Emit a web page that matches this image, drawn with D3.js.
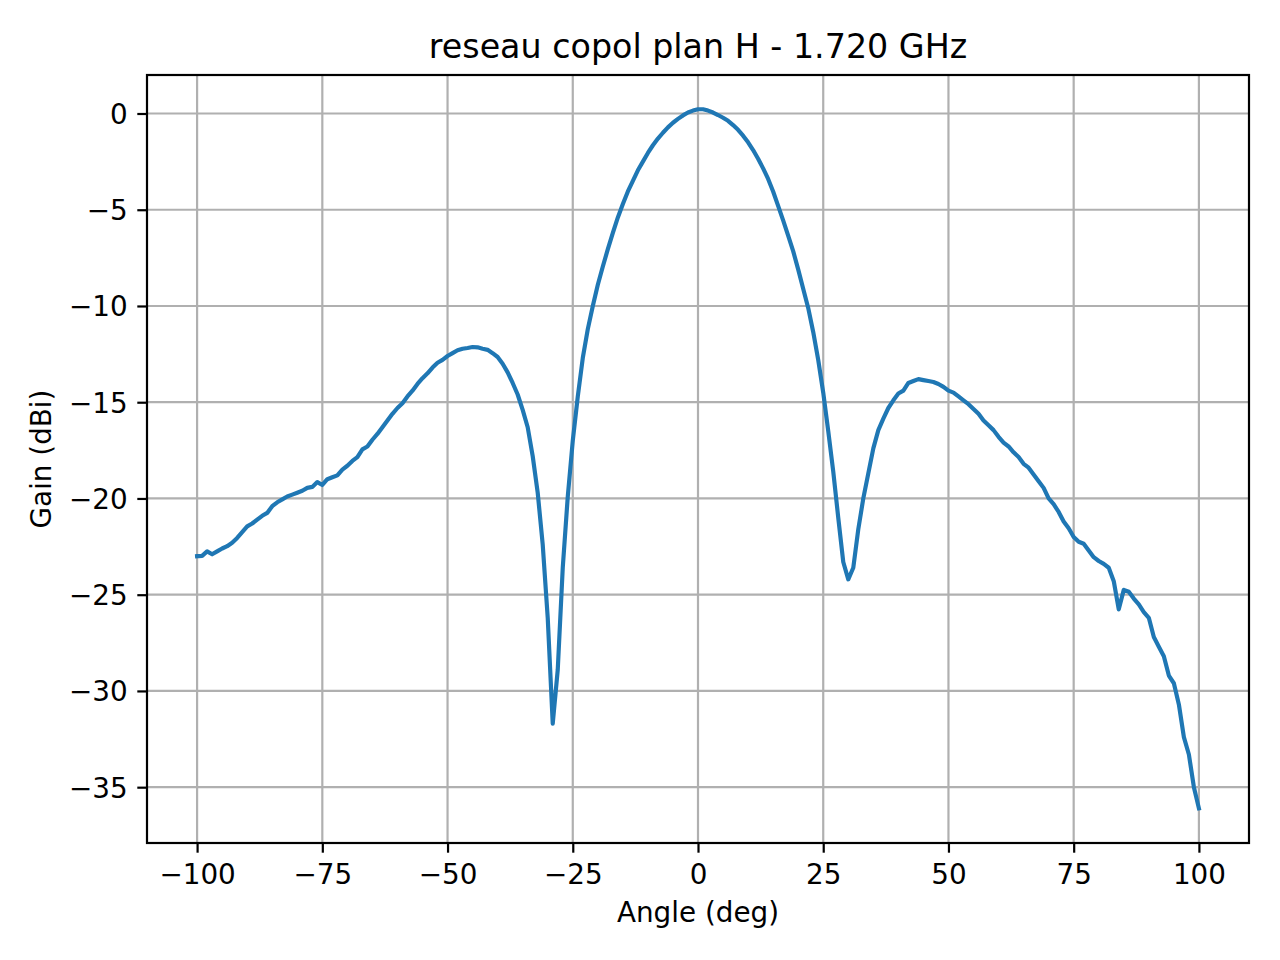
<!DOCTYPE html>
<html>
<head>
<meta charset="utf-8">
<script src="https://cdn.jsdelivr.net/npm/d3@7"></script>
<style>
  body { margin: 0; background: #fff; }
  text { font-family: "DejaVu Sans", sans-serif; fill: #000; }
</style>
</head>
<body>
<svg id="chart" width="1280" height="960"></svg>
<script>
// measured pattern, 1 degree steps from -100 to 100
var angles = d3.range(-100, 101, 1);
var gains = [
  -23.0, -22.98, -22.75, -22.9, -22.75, -22.6, -22.48, -22.3, -22.05, -21.75,   // -100..-91
  -21.45, -21.3, -21.1, -20.9, -20.75, -20.4, -20.2, -20.05, -19.9, -19.8,      // -90..-81
  -19.7, -19.6, -19.45, -19.4, -19.15, -19.3, -19.0, -18.9, -18.8, -18.5,       // -80..-71
  -18.3, -18.05, -17.85, -17.45, -17.3, -16.95, -16.65, -16.3, -15.95, -15.6,   // -70..-61
  -15.3, -15.05, -14.7, -14.4, -14.05, -13.75, -13.5, -13.2, -12.95, -12.8,     // -60..-51
  -12.6, -12.45, -12.3, -12.22, -12.18, -12.13, -12.15, -12.22, -12.28, -12.45, // -50..-41
  -12.65, -13.0, -13.45, -14.0, -14.6, -15.4, -16.3, -17.8, -19.7, -22.4,       // -40..-31
  -26.2, -31.7, -28.9, -23.6, -19.9, -17.0, -14.7, -12.7, -11.2, -10.0,         // -30..-21
  -8.9, -7.95, -7.05, -6.2, -5.4, -4.7, -4.05, -3.5, -2.95, -2.5,               // -20..-11
  -2.05, -1.65, -1.3, -1.0, -0.72, -0.48, -0.28, -0.1, 0.05, 0.15,              // -10..-1
  0.22,                                                                         // 0
  0.22, 0.15, 0.05, -0.08, -0.22, -0.38, -0.6, -0.85, -1.15, -1.5,              // 1..10
  -1.9, -2.35, -2.85, -3.4, -4.05, -4.8, -5.55, -6.35, -7.15, -8.1,             // 11..20
  -9.1, -10.1, -11.35, -12.8, -14.5, -16.5, -18.6, -21.0, -23.3, -24.2,         // 21..30
  -23.6, -21.6, -20.0, -18.7, -17.4, -16.45, -15.85, -15.3, -14.9, -14.55,      // 31..40
  -14.4, -14.0, -13.9, -13.8, -13.85, -13.9, -13.95, -14.05, -14.2, -14.4,      // 41..50
  -14.5, -14.7, -14.9, -15.1, -15.35, -15.6, -15.95, -16.2, -16.45, -16.8,      // 51..60
  -17.1, -17.3, -17.6, -17.85, -18.2, -18.4, -18.75, -19.1, -19.45, -20.0,      // 61..70
  -20.3, -20.7, -21.2, -21.55, -22.0, -22.25, -22.35, -22.7, -23.05, -23.25,    // 71..80
  -23.4, -23.6, -24.3, -25.76, -24.75, -24.85, -25.2, -25.5, -25.9, -26.2,      // 81..90
  -27.2, -27.7, -28.2, -29.2, -29.6, -30.7, -32.4, -33.3, -35.0, -36.1          // 91..100
];
var xTicks = [-100, -75, -50, -25, 0, 25, 50, 75, 100];
var yTicks = [-35, -30, -25, -20, -15, -10, -5, 0];

var title = "reseau copol plan H - 1.720 GHz";
var xLabel = "Angle (deg)";
var yLabel = "Gain (dBi)";

var plotLeft = 147, plotRight = 1249, plotTop = 75, plotBottom = 843;

var svg = d3.select("#chart");

var x = d3.scaleLinear().domain([-110, 110]).range([plotLeft, plotRight]);
var y = d3.scaleLinear().domain([-37.9, 2.0]).range([plotBottom, plotTop]);

var fmt = function(d) { return d < 0 ? "\u2212" + Math.abs(d) : String(d); };

// grid
svg.append("g").selectAll("line")
    .data(xTicks).enter().append("line")
    .attr("x1", function(d) { return x(d); })
    .attr("x2", function(d) { return x(d); })
    .attr("y1", plotTop).attr("y2", plotBottom)
    .attr("stroke", "#b0b0b0").attr("stroke-width", 2.2);

svg.append("g").selectAll("line")
    .data(yTicks).enter().append("line")
    .attr("y1", function(d) { return y(d); })
    .attr("y2", function(d) { return y(d); })
    .attr("x1", plotLeft).attr("x2", plotRight)
    .attr("stroke", "#b0b0b0").attr("stroke-width", 2.2);

// axes
var xAxis = svg.append("g")
    .attr("transform", "translate(0," + plotBottom + ")")
    .call(d3.axisBottom(x).tickValues(xTicks).tickFormat(fmt).tickSize(9.7).tickPadding(9.7));
var yAxis = svg.append("g")
    .attr("transform", "translate(" + plotLeft + ",0)")
    .call(d3.axisLeft(y).tickValues(yTicks).tickFormat(fmt).tickSize(9.7).tickPadding(9.7));

[xAxis, yAxis].forEach(function(a) {
    a.select(".domain").remove();
    a.selectAll(".tick line").attr("stroke", "#000").attr("stroke-width", 2.2);
    a.selectAll(".tick text")
      .style("font-family", "DejaVu Sans")
      .style("font-size", "27.8px")
      .attr("fill", "#000");
});
xAxis.selectAll(".tick text").attr("dy", "0.76em");
yAxis.selectAll(".tick text").attr("dy", "0.36em");

// curve
var line = d3.line()
    .x(function(d, i) { return x(angles[i]); })
    .y(function(d) { return y(d); });

svg.append("path")
    .datum(gains)
    .attr("d", line)
    .attr("fill", "none")
    .attr("stroke", "#1f77b4")
    .attr("stroke-width", 4.17)
    .attr("stroke-linejoin", "round")
    .attr("stroke-linecap", "square");

// frame
svg.append("rect")
    .attr("x", plotLeft).attr("y", plotTop)
    .attr("width", plotRight - plotLeft).attr("height", plotBottom - plotTop)
    .attr("fill", "none").attr("stroke", "#000").attr("stroke-width", 2.2);

// labels
svg.append("text")
    .attr("x", (plotLeft + plotRight) / 2).attr("y", 58)
    .attr("text-anchor", "middle")
    .style("font-size", "33.3px")
    .text(title);

svg.append("text")
    .attr("x", (plotLeft + plotRight) / 2).attr("y", 922)
    .attr("text-anchor", "middle")
    .style("font-size", "27.8px")
    .text(xLabel);

svg.append("text")
    .attr("transform", "translate(51," + ((plotTop + plotBottom) / 2) + ") rotate(-90)")
    .attr("text-anchor", "middle")
    .style("font-size", "27.8px")
    .text(yLabel);
</script>
</body>
</html>
